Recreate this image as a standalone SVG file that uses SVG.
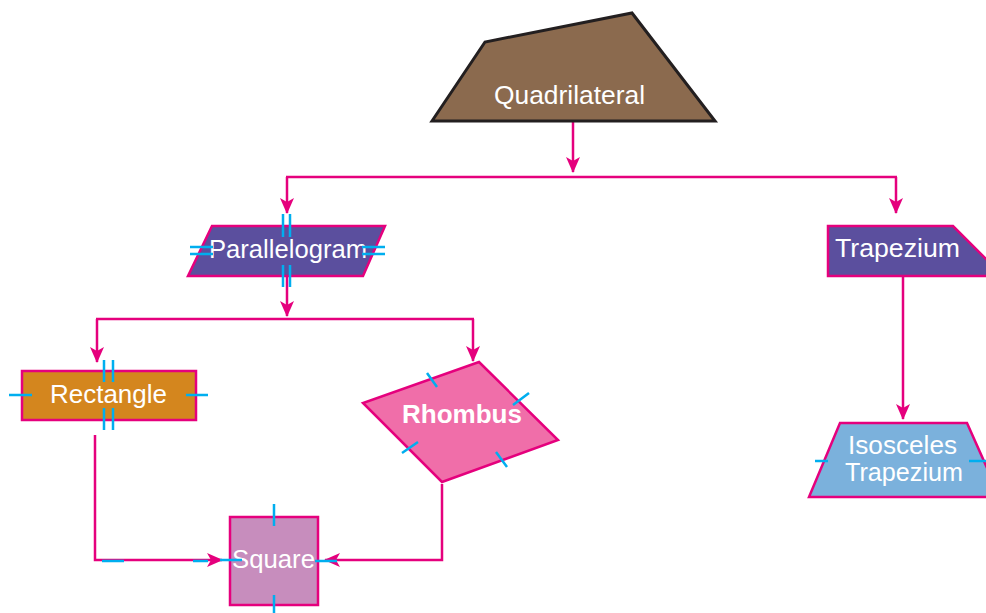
<svg xmlns="http://www.w3.org/2000/svg" width="986" height="613" viewBox="0 0 986 613">
<defs>
<marker id="ah" markerUnits="userSpaceOnUse" markerWidth="16" markerHeight="16" viewBox="0 0 16 16" refX="15" refY="8" orient="auto">
<path d="M0,1 L16,8 L0,15 L4,8 z" fill="#E5007D"/>
</marker>
<style>
.lbl{font-family:"Liberation Sans",Arial,Helvetica,sans-serif;font-size:25px;fill:#FFFFFF;text-anchor:middle}
.shape{stroke:#E5007D;stroke-width:2.5;stroke-linejoin:miter}
.tick{stroke:#00AEEF;stroke-width:2.5;fill:none}
.conn{stroke:#E5007D;stroke-width:2.5;fill:none}
</style>
</defs>
<rect width="986" height="613" fill="#FFFFFF"/>

<g id="connectors">
<path class="conn" d="M573,122 V172" marker-end="url(#ah)"/>
<path class="conn" d="M286,177 H897"/>
<path class="conn" d="M287,177 V213" marker-end="url(#ah)"/>
<path class="conn" d="M896,177 V213" marker-end="url(#ah)"/>
<path class="conn" d="M287,276 V316" marker-end="url(#ah)"/>
<path class="conn" d="M96,319 H474"/>
<path class="conn" d="M97,319 V362" marker-end="url(#ah)"/>
<path class="conn" d="M473,319 V361" marker-end="url(#ah)"/>
<path class="conn" d="M903,275 V419" marker-end="url(#ah)"/>
<path class="conn" d="M95,435 V560 H222" marker-end="url(#ah)"/>
<path class="conn" d="M442,484 V560 H325" marker-end="url(#ah)"/>
</g>

<g id="quadrilateral">
<polygon points="432,121 485,42 632,13 715,121" fill="#8B6A4E" stroke="#231F20" stroke-width="3" stroke-linejoin="miter"/>
<text class="lbl" x="569.5" y="104" textLength="151" lengthAdjust="spacingAndGlyphs">Quadrilateral</text>
</g>

<g id="parallelogram">
<polygon class="shape" points="212,226 385,226 363,276 188,276" fill="#5B4F9E"/>
<text class="lbl" x="288" y="258" textLength="158" lengthAdjust="spacingAndGlyphs">Parallelogram</text>
<path class="tick" d="M283,214 V237 M290,214 V237 M283,265 V287 M290,265 V287 M190,247 H213 M190,254 H213 M362,247 H385 M362,254 H385"/>
</g>

<g id="trapezium">
<polygon class="shape" points="828,226 953,226 1003,276 828,276" fill="#5B4F9E"/>
<text class="lbl" x="897.5" y="257" textLength="125" lengthAdjust="spacingAndGlyphs">Trapezium</text>
</g>

<g id="rectangle">
<rect class="shape" x="22" y="371" width="174" height="49" fill="#D4861E"/>
<text class="lbl" x="108.5" y="403" textLength="117" lengthAdjust="spacingAndGlyphs">Rectangle</text>
<path class="tick" d="M104,360 V382 M113,360 V382 M104,408 V430 M113,408 V430 M9,395 H32 M186,395 H208"/>
</g>

<g id="rhombus">
<polygon class="shape" points="479,362 558,440 442,482 363,403" fill="#F06EA9"/>
<text class="lbl" x="462" y="423" font-weight="bold" textLength="120" lengthAdjust="spacingAndGlyphs">Rhombus</text>
<path class="tick" d="M427,373 L437,387 M513,405 L529,393 M402,453 L418,442 M496,452 L507,467"/>
</g>

<g id="isosceles-trapezium">
<polygon class="shape" points="840,423 967,423 1000,497 809,497" fill="#7BB1DC"/>
<text class="lbl" x="902.5" y="454" textLength="109" lengthAdjust="spacingAndGlyphs">Isosceles</text>
<text class="lbl" x="904" y="481" textLength="118" lengthAdjust="spacingAndGlyphs">Trapezium</text>
<path class="tick" d="M815,461 H828 M969,461 H986"/>
</g>

<g id="square">
<rect class="shape" x="230" y="517" width="88" height="88" fill="#C78DBD"/>
<text class="lbl" x="273.5" y="568" textLength="83" lengthAdjust="spacingAndGlyphs">Square</text>
<path class="tick" d="M274,504 V526 M274,595 V613 M220,560 H242 M315,561 H337 M102,561 H124 M193,561 H208"/>
</g>
</svg>
